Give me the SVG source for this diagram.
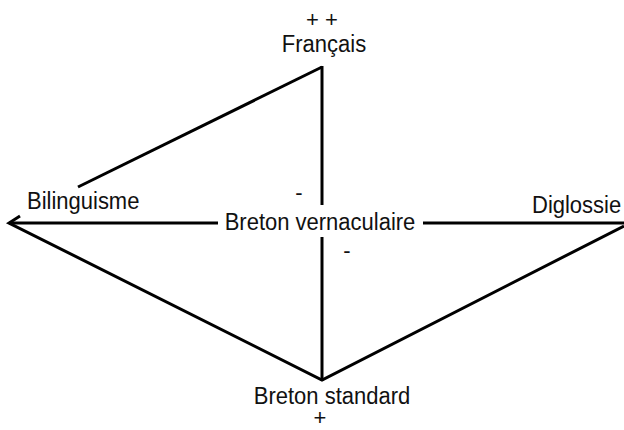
<svg xmlns="http://www.w3.org/2000/svg" width="624" height="430" viewBox="0 0 624 430">
<style>
.t{font-family:"Liberation Sans",Arial,sans-serif;font-size:22px;fill:#111;}
.s{font-family:"Liberation Sans",Arial,sans-serif;font-size:22px;fill:#111;}
.l{stroke:#000;stroke-width:3;fill:none;stroke-linecap:butt;}
</style>
<rect width="624" height="430" fill="#fff"/>
<g id="connectors">
<line class="l" x1="322" y1="66" x2="322" y2="205"/>
<line class="l" x1="322" y1="237" x2="322" y2="381"/>
<line class="l" x1="9" y1="223" x2="218" y2="223"/>
<line class="l" x1="423" y1="223" x2="624" y2="223"/>
<line class="l" x1="322" y1="67" x2="78" y2="187"/>
<polyline class="l" points="20,216 9,223 322,380 624,226"/>
</g>
<g id="francais">
<text class="s" x="322" y="27" text-anchor="middle">+ +</text>
<text class="t" transform="translate(324,52) scale(1,1.1)" text-anchor="middle">Français</text>
</g>
<g id="bilinguisme"><text class="t" transform="translate(27,209) scale(1,1.1)">Bilinguisme</text></g>
<g id="diglossie"><text class="t" transform="translate(532,213) scale(1,1.1)">Diglossie</text></g>
<g id="breton-vernaculaire"><text class="t" transform="translate(320,230) scale(1,1.1)" text-anchor="middle">Breton vernaculaire</text></g>
<g id="breton-standard">
<text class="t" transform="translate(332,404) scale(1,1.1)" text-anchor="middle">Breton standard</text>
<text class="s" x="320" y="425" text-anchor="middle">+</text>
</g>
<g id="signs">
<text class="t" x="299" y="200" text-anchor="middle">-</text>
<text class="t" x="347" y="258" text-anchor="middle">-</text>
</g>
</svg>
